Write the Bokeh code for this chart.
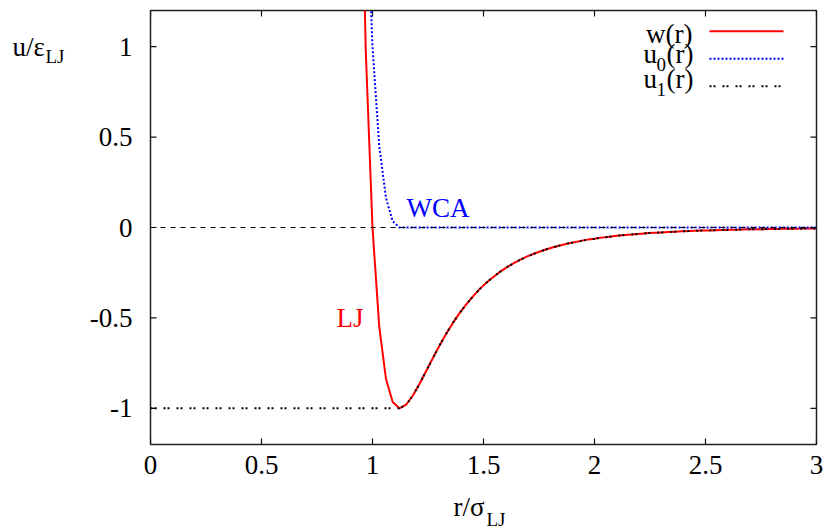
from bokeh.plotting import figure
from bokeh.models import Range1d, FixedTicker, Label, Span
from bokeh.core.properties import value
from bokeh.embed import file_html
from bokeh.resources import INLINE

# ---------------- data ----------------
r_grid = [0.9394, 0.9697, 1.0000, 1.0303, 1.0606, 1.0909, 1.1212, 1.1515, 1.1818, 1.2121,
          1.2424, 1.2727, 1.3030, 1.3333, 1.3636, 1.3939, 1.4242, 1.4545, 1.4848, 1.5152,
          1.5455, 1.5758, 1.6061, 1.6364, 1.6667, 1.6970, 1.7273, 1.7576, 1.7879, 1.8182,
          1.8485, 1.8788, 1.9091, 1.9394, 1.9697, 2.0000, 2.0303, 2.0606, 2.0909, 2.1212,
          2.1515, 2.1818, 2.2121, 2.2424, 2.2727, 2.3030, 2.3333, 2.3636, 2.3939, 2.4242,
          2.4545, 2.4848, 2.5152, 2.5455, 2.5758, 2.6061, 2.6364, 2.6667, 2.6970, 2.7273,
          2.7576, 2.7879, 2.8182, 2.8485, 2.8788, 2.9091, 2.9394, 2.9697, 3.0000]
w_vals = [2.650, 0.976, 0.000, -0.548, -0.836, -0.965, -1.000, -0.980, -0.929, -0.864,
          -0.792, -0.720, -0.650, -0.585, -0.525, -0.471, -0.422, -0.378, -0.338, -0.303,
          -0.272, -0.244, -0.219, -0.197, -0.178, -0.160, -0.145, -0.131, -0.119, -0.108,
          -0.098, -0.089, -0.081, -0.074, -0.067, -0.062, -0.056, -0.052, -0.047, -0.043,
          -0.040, -0.037, -0.034, -0.031, -0.029, -0.027, -0.025, -0.023, -0.021, -0.020,
          -0.018, -0.017, -0.016, -0.015, -0.014, -0.013, -0.012, -0.011, -0.010, -0.0097,
          -0.0091, -0.0085, -0.0080, -0.0075, -0.0070, -0.0066, -0.0062, -0.0058, -0.0055]

u0_r = [0.9394, 0.9697, 1.0000, 1.0303, 1.0606, 1.0909, 1.1212, 3.0000]
u0_vals = [3.650, 1.976, 1.000, 0.452, 0.164, 0.035, 0.000, 0.000]

u1_r = [0.0, 1.1212] + r_grid[7:]
u1_vals = [-1.0, -1.0] + w_vals[7:]

x_ticks = [0, 0.5, 1, 1.5, 2, 2.5, 3]
x_tick_labels = ["0", "0.5", "1", "1.5", "2", "2.5", "3"]
y_ticks = [-1, -0.5, 0, 0.5, 1]
y_tick_labels = ["-1", "-0.5", "0", "0.5", "1"]

X0, X1 = 0, 3
Y0, Y1 = -1.2, 1.2

# ---------------- styling ----------------
FONT = "Liberation Serif"
FS_PX = 27
SUB_PX = 19
FRAME_L = 150
PX_X = 666 / (X1 - X0)
PX_Y = 434 / (Y1 - Y0)
TICK = "#111111"

p = figure(width=827, height=529, output_backend="svg", toolbar_location=None,
           x_range=Range1d(X0, X1), y_range=Range1d(Y0, Y1),
           min_border_left=150, min_border_right=11, min_border_top=10, min_border_bottom=85)
p.background_fill_color = "white"
p.border_fill_color = "white"
p.grid.visible = False
p.outline_line_color = "#222222"
p.outline_line_width = 1.5

for ax in (p.xaxis[0], p.yaxis[0]):
    ax.axis_line_color = None
    ax.major_tick_in = 0
    ax.major_tick_out = 0
    ax.major_tick_line_color = None
    ax.minor_tick_line_color = None
    ax.major_label_text_font = FONT
    ax.major_label_text_font_size = f"{FS_PX}px"
    ax.major_label_text_color = "black"

p.xaxis.ticker = FixedTicker(ticks=x_ticks)
p.xaxis.major_label_overrides = dict(zip(x_ticks, x_tick_labels))
p.xaxis.major_label_standoff = 11
p.yaxis.ticker = FixedTicker(ticks=y_ticks)
p.yaxis.major_label_overrides = dict(zip(y_ticks, y_tick_labels))
p.yaxis.major_label_standoff = 18

# inward ticks on all four edges
tl_y = 6 / PX_Y
tl_x = 6 / PX_X
nx, ny = len(x_ticks), len(y_ticks)
p.segment(x0=x_ticks, y0=[Y1] * nx, x1=x_ticks, y1=[Y1 - tl_y] * nx, line_color=TICK, line_width=1.2)
p.segment(x0=x_ticks, y0=[Y0] * nx, x1=x_ticks, y1=[Y0 + tl_y] * nx, line_color=TICK, line_width=1.2)
p.segment(x0=[X1] * ny, y0=y_ticks, x1=[X1 - tl_x] * ny, y1=y_ticks, line_color=TICK, line_width=1.2)
p.segment(x0=[X0] * ny, y0=y_ticks, x1=[X0 + tl_x] * ny, y1=y_ticks, line_color=TICK, line_width=1.2)

# zero line
p.add_layout(Span(location=0, dimension="width", line_color="black",
                  line_width=1, line_dash="5 5"))

# curves
p.line(r_grid, w_vals, line_color="#ff0000", line_width=2)
p.line(u0_r, u0_vals, line_color="#0000ff", line_width=2, line_dash="2 2")
p.line(u1_r, u1_vals, line_color="black", line_width=2, line_dash="2 2 2 7")


# ---------------- texts ----------------
def X(px):
    return (px - FRAME_L) / PX_X


def Y(py):
    return (227 - py) / PX_Y


def mid(py_base, size):
    # convert a baseline pixel position to the em-box middle
    return py_base - 0.3375 * size


def lab(px, py, text, size=FS_PX, color="black", align="left"):
    p.add_layout(Label(x=X(px), y=Y(mid(py, size)), text=text, text_font=FONT,
                       text_font_size=f"{size}px", text_color=color, text_align=align,
                       text_baseline="middle"))


def olab(px, py, text, size=FS_PX, color="black"):
    # text outside the frame: an unclipped text glyph on the overlay level
    r = p.text(x=[X(px)], y=[Y(mid(py, size))], text=[text], text_font=value(FONT),
               text_font_size=value(f"{size}px"), text_color=color, text_align="left",
               text_baseline="middle")
    r.level = "overlay"


# in-plot annotations
lab(406, 217, "WCA", color="#0000ff")
lab(336, 327, "LJ", color="#ff0000")

# axis titles
olab(12, 56, "u/ε")
olab(45, 62, "LJ", size=SUB_PX)
olab(453, 516, "r/σ")
olab(486, 525, "LJ", size=SUB_PX)

# legend
lab(692, 43, "w(r)", align="right")
lab(643, 63, "u")
lab(656, 70.5, "0", size=SUB_PX)
lab(666, 63, "(r)")
lab(643, 88, "u")
lab(656, 95.5, "1", size=SUB_PX)
lab(666, 88, "(r)")

p.line([X(709), X(783)], [Y(30.7), Y(30.7)], line_color="#ff0000", line_width=2)
p.line([X(709), X(783)], [Y(58.3), Y(58.3)], line_color="#0000ff", line_width=2, line_dash="2 2")
p.line([X(709), X(783)], [Y(85.7), Y(85.7)], line_color="black", line_width=2, line_dash="2 2 2 7")

open("out.html", "w").write(file_html(p, INLINE))
